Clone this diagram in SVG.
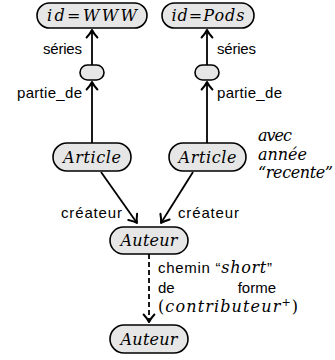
<svg xmlns="http://www.w3.org/2000/svg" width="335" height="360" viewBox="0 0 335 360">
<style>
.node rect{fill:#e6e6e6;stroke:#000;stroke-width:1.6}
.nl{font-family:"DejaVu Serif",serif;font-style:italic;font-size:16px;text-anchor:middle;fill:#000}
.up{font-style:normal}
.lbl{font-family:"Liberation Sans",sans-serif;font-size:15px;fill:#000}
.it{font-family:"DejaVu Serif",serif;font-style:italic;font-size:16px}
.edge{stroke:#000;stroke-width:1.8;fill:none}
.dash{stroke-dasharray:5 3}
</style>
<defs>
<marker id="ah" markerUnits="userSpaceOnUse" markerWidth="16" markerHeight="16" refX="0" refY="0" viewBox="-11 -8 16 16" orient="auto">
<path d="M-7.5,-5.4 Q-3,-1.3 0,0 Q-3,1.3 -7.5,5.4" fill="none" stroke="#000" stroke-width="2" stroke-linecap="round" stroke-linejoin="round"/>
</marker>
</defs>
<g id="connectors">
<line class="edge" x1="92" y1="65" x2="92" y2="30" marker-end="url(#ah)"/>
<line class="edge" x1="207" y1="65" x2="207" y2="30" marker-end="url(#ah)"/>
<line class="edge" x1="92" y1="143" x2="92" y2="82" marker-end="url(#ah)"/>
<line class="edge" x1="207" y1="143" x2="207" y2="82" marker-end="url(#ah)"/>
<line class="edge" x1="101" y1="172" x2="137" y2="223" marker-end="url(#ah)"/>
<line class="edge" x1="193" y1="172" x2="161" y2="223" marker-end="url(#ah)"/>
<line class="edge dash" x1="149" y1="254" x2="149" y2="322" marker-end="url(#ah)"/>
<text class="lbl" x="82" y="54" text-anchor="end" textLength="39">séries</text>
<text class="lbl" x="217" y="54" textLength="39">séries</text>
<text class="lbl" x="82" y="98" text-anchor="end" textLength="65">partie_de</text>
<text class="lbl" x="217" y="98" textLength="65">partie_de</text>
<text class="lbl" x="122" y="218" text-anchor="end" textLength="61">créateur</text>
<text class="lbl" x="178" y="218" textLength="61">créateur</text>
<text class="lbl" x="158" y="273" textLength="114">chemin “<tspan class="it">short</tspan>”</text>
<text class="lbl" x="158" y="293">de</text>
<text class="lbl" x="276" y="293" text-anchor="end">forme</text>
<text class="it" x="158" y="312" textLength="140"><tspan class="up">(</tspan>contributeur<tspan class="up" font-size="11" dy="-6">+</tspan><tspan class="up" dy="6">)</tspan></text>
</g>
<g id="n_www" class="node">
<rect x="37" y="3" width="110" height="25" rx="12.5"/>
<text class="nl" x="92" y="21" textLength="90">id<tspan class="up">=</tspan>WWW</text>
</g>
<g id="n_pods" class="node">
<rect x="162" y="3" width="92" height="25" rx="12.5"/>
<text class="nl" x="208" y="21" textLength="73">id<tspan class="up">=</tspan>Pods</text>
</g>
<g id="n_blank1" class="node">
<rect x="80" y="65" width="24" height="15" rx="7.5"/>
</g>
<g id="n_blank2" class="node">
<rect x="195" y="65" width="24" height="15" rx="7.5"/>
</g>
<g id="n_article1" class="node">
<rect x="53" y="143" width="78" height="28" rx="14"/>
<text class="nl" x="92" y="163" textLength="58">Article</text>
</g>
<g id="n_article2" class="node">
<rect x="169" y="143" width="77" height="28" rx="14"/>
<text class="nl" x="207.5" y="163" textLength="58">Article</text>
</g>
<g id="n_note">
<text class="it" x="258" y="141" textLength="34">avec</text>
<text class="it" x="258" y="160" textLength="49">année</text>
<text class="it" x="258" y="178" textLength="75">“recente”</text>
</g>
<g id="n_auteur1" class="node">
<rect x="110" y="227" width="78" height="27" rx="13.5"/>
<text class="nl" x="149" y="246" textLength="57">Auteur</text>
</g>
<g id="n_auteur2" class="node">
<rect x="110" y="325" width="78" height="28" rx="14"/>
<text class="nl" x="149" y="345" textLength="57">Auteur</text>
</g>
</svg>
